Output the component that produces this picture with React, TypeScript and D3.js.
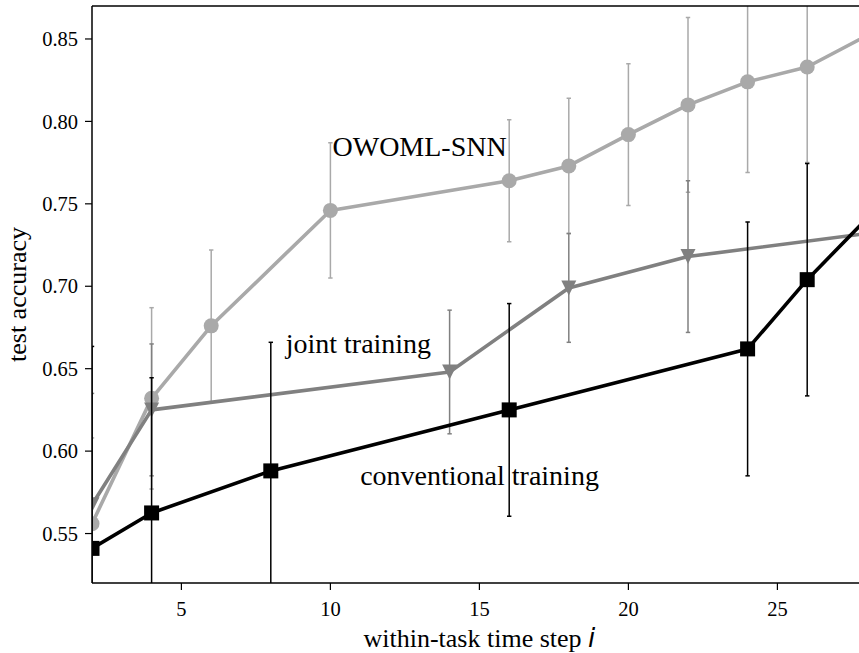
import React from 'react';
import * as d3 from 'd3';

const W = 859;
const H = 653;

// axis ticks
const xTicks = [5, 10, 15, 20, 25];
const yTicks = [0.55, 0.6, 0.65, 0.7, 0.75, 0.8, 0.85];

// OWOML-SNN
const owomlSteps = [2, 4, 6, 10, 16, 18, 20, 22, 24, 26, 28];
const owomlAcc = [0.556, 0.632, 0.676, 0.746, 0.764, 0.773, 0.792, 0.81, 0.824, 0.833, 0.852];
const owomlErr = [0.052, 0.055, 0.046, 0.041, 0.037, 0.041, 0.043, 0.053, 0.055, 0.058, 0.055];

// joint training
const jointSteps = [2, 4, 14, 18, 22, 28];
const jointAcc = [0.5675, 0.625, 0.648, 0.699, 0.718, 0.732];
const jointErr = [0.0675, 0.04, 0.0375, 0.033, 0.046, 0.04];

// conventional training
const convSteps = [2, 4, 8, 16, 24, 26, 28];
const convAcc = [0.541, 0.5625, 0.588, 0.625, 0.662, 0.704, 0.741];
const convErr = [0.1225, 0.082, 0.078, 0.0645, 0.077, 0.0705, 0.07];

const FONT = '"Liberation Serif", "Times New Roman", serif';

type Marker = 'circle' | 'square' | 'triangle';
interface Series {
  key: string;
  steps: number[];
  acc: number[];
  err: number[];
  color: string;
  marker: Marker;
}

const series: Series[] = [
  { key: 'owoml', steps: owomlSteps, acc: owomlAcc, err: owomlErr, color: '#a9a9a9', marker: 'circle' },
  { key: 'joint', steps: jointSteps, acc: jointAcc, err: jointErr, color: '#808080', marker: 'triangle' },
  { key: 'conv', steps: convSteps, acc: convAcc, err: convErr, color: '#000000', marker: 'square' },
];

const plot = { left: 92, top: 6, right: 866.8, bottom: 583 };

export default function App() {
  const x = d3.scaleLinear().domain([2, 28]).range([plot.left, plot.right]);
  const y = d3.scaleLinear().domain([0.52, 0.87]).range([plot.bottom, plot.top]);
  const line = d3.line<[number, number]>().x((d) => x(d[0])).y((d) => y(d[1]));

  const ms = 15;
  const renderMarker = (m: Marker, cx: number, cy: number, color: string, k: string) => {
    const h = ms / 2;
    if (m === 'circle') return <circle key={k} cx={cx} cy={cy} r={h} fill={color} />;
    if (m === 'square') return <rect key={k} x={cx - h} y={cy - h} width={ms} height={ms} fill={color} />;
    return (
      <path key={k} d={`M${cx - h},${cy - h}L${cx + h},${cy - h}L${cx},${cy + h}Z`} fill={color} />
    );
  };

  return (
    <svg
      width={W}
      height={H}
      viewBox={`0 0 ${W} ${H}`}
      style={{ position: 'absolute', left: 0, top: 0, background: '#fff' }}
    >
      <rect x={0} y={0} width={W} height={H} fill="#fff" />
      <defs>
        <clipPath id="plot-area">
          <rect x={plot.left} y={plot.top} width={plot.right - plot.left} height={plot.bottom - plot.top} />
        </clipPath>
      </defs>

      <g clipPath="url(#plot-area)">
        {series.map((s) => {
          const pts = s.steps.map((st, i) => [st, s.acc[i]] as [number, number]);
          return (
            <g key={s.key}>
              {s.steps.map((st, i) => {
                const cx = x(st);
                const y0 = y(s.acc[i] - s.err[i]);
                const y1 = y(s.acc[i] + s.err[i]);
                return (
                  <g key={`e${i}`} stroke={s.color} strokeWidth={1.5}>
                    <line x1={cx} x2={cx} y1={y0} y2={y1} />
                    <line x1={cx - 2.2} x2={cx + 2.2} y1={y0} y2={y0} />
                    <line x1={cx - 2.2} x2={cx + 2.2} y1={y1} y2={y1} />
                  </g>
                );
              })}
              <path d={line(pts) || ''} fill="none" stroke={s.color} strokeWidth={3.6} strokeLinejoin="round" />
              {s.steps.map((st, i) => renderMarker(s.marker, x(st), y(s.acc[i]), s.color, `m${i}`))}
            </g>
          );
        })}
      </g>

      {/* annotations */}
      <g fontFamily={FONT} fontSize={28} fill="#000">
        <text x={x(10.07)} y={y(0.7788)}>OWOML-SNN</text>
        <text x={x(8.5)} y={y(0.6594)}>joint training</text>
        <text x={x(11.0)} y={y(0.5794)}>conventional training</text>
      </g>

      {/* spines */}
      <g stroke="#000" strokeWidth={1.5} fill="none">
        <line x1={plot.left} x2={plot.left} y1={plot.top} y2={plot.bottom} />
        <line x1={plot.left} x2={plot.right} y1={plot.top} y2={plot.top} />
        <line x1={plot.left} x2={plot.right} y1={plot.bottom} y2={plot.bottom} />
        <line x1={plot.right} x2={plot.right} y1={plot.top} y2={plot.bottom} />
      </g>

      {/* x axis */}
      <g fontFamily={FONT} fontSize={20.5} fill="#000">
        {xTicks.map((t) => (
          <g key={t}>
            <line x1={x(t)} x2={x(t)} y1={plot.bottom} y2={plot.bottom + 7} stroke="#000" strokeWidth={1.2} />
            <text x={x(t)} y={615.5} textAnchor="middle">{t}</text>
          </g>
        ))}
        {yTicks.map((t) => (
          <g key={t}>
            <line x1={plot.left - 7} x2={plot.left} y1={y(t)} y2={y(t)} stroke="#000" strokeWidth={1.2} />
            <text x={plot.left - 14} y={y(t) + 7.2} textAnchor="end">{t.toFixed(2)}</text>
          </g>
        ))}
      </g>

      {/* axis titles */}
      <text
        x={(plot.left + plot.right) / 2}
        y={647}
        textAnchor="middle"
        fontFamily={FONT}
        fontSize={26}
      >
        within-task time step{' '}
        <tspan fontFamily='"DejaVu Sans", sans-serif' fontStyle="italic">i</tspan>
      </text>
      <text
        transform={`translate(26,${(plot.top + plot.bottom) / 2}) rotate(-90)`}
        textAnchor="middle"
        fontFamily={FONT}
        fontSize={26}
      >
        test accuracy
      </text>
    </svg>
  );
}
